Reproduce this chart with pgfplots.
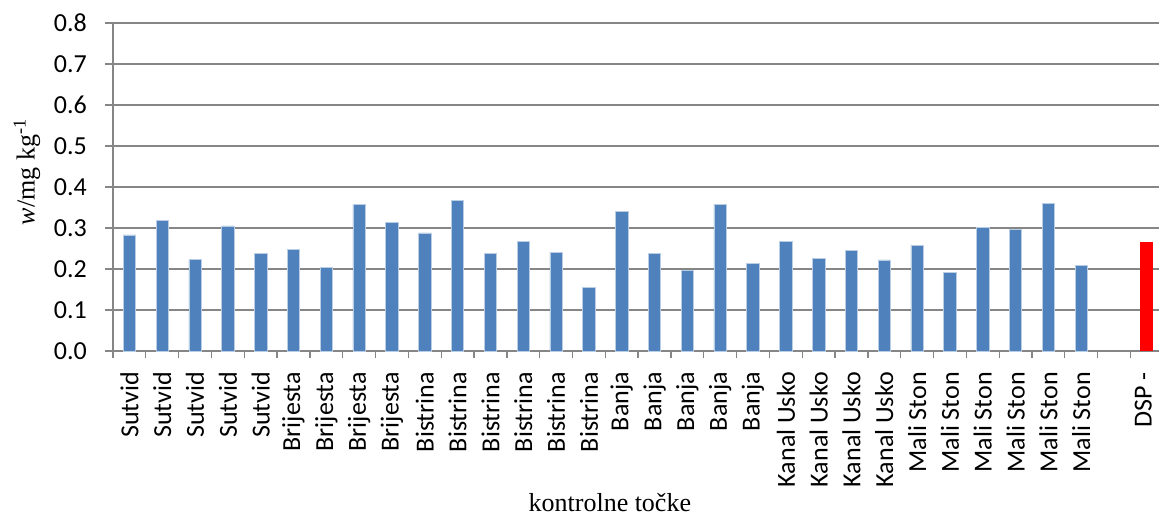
\documentclass[border=0pt]{standalone}
\usepackage{fontspec}
\setmainfont{Carlito}
\newfontfamily\tnr{Liberation Serif}
\usepackage{pgfplots}
\pgfplotsset{compat=1.18}
\definecolor{barblue}{RGB}{79,129,189}
\definecolor{baredge}{RGB}{185,205,229}
\definecolor{axgray}{RGB}{134,134,134}
\begin{document}
\begin{tikzpicture}
\begin{axis}[name=ax, scale only axis, width=1046pt, height=328pt,
  xmin=-0.5, xmax=31.37, ymin=0, ymax=0.8,
  ytick={0,0.1,0.2,0.3,0.4,0.5,0.6,0.7,0.8},
  yticklabel style={/pgf/number format/.cd, fixed, fixed zerofill, precision=1, assume math mode=true},
  axis x line=bottom, axis y line=left,
  axis line style={-, draw=axgray, line width=1.3pt},
  ymajorgrids, grid style={draw=axgray, line width=1.3pt},
  tick align=outside, major tick length=8pt, minor tick length=7pt,
  tick style={draw=axgray, line width=1.3pt},
  xtick={0,...,31}, major x tick style={draw=none},
  minor xtick={-0.5,0.5,...,30.5},
  xticklabels={Sutvid,Sutvid,Sutvid,Sutvid,Sutvid,Brijesta,Brijesta,Brijesta,Brijesta,Bistrina,Bistrina,Bistrina,Bistrina,Bistrina,Bistrina,Banja,Banja,Banja,Banja,Banja,Kanal Usko,Kanal Usko,Kanal Usko,Kanal Usko,Mali Ston,Mali Ston,Mali Ston,Mali Ston,Mali Ston,Mali Ston,{},{\raisebox{-0.18em}[0pt][0pt]{DSP -}}},
  tick label style={font=\fontsize{26}{30}\selectfont, inner sep=0pt},
  xticklabel style={rotate=90, anchor=east},
  xticklabel shift=13pt,
  yticklabel shift=18pt,
  xlabel={\tnr kontrolne točke},
  ylabel={{\tnr\itshape w}{\tnr /mg kg\textsuperscript{-1}}},
  label style={font=\fontsize{26}{30}\selectfont, inner sep=0pt},
  xlabel style={at={(axis description cs:0.475,-0.489)}, anchor=base},
  ylabel style={at={(axis description cs:-0.0822,0.545)}, anchor=center},
]
\addplot[ybar, bar shift=0pt, bar width=12.4pt, fill=barblue, draw=baredge, line width=0.7pt] coordinates {
(0,0.283) (1,0.319) (2,0.223) (3,0.305) (4,0.239) (5,0.247) (6,0.203) (7,0.357) (8,0.313) (9,0.288)
(10,0.368) (11,0.239) (12,0.268) (13,0.241) (14,0.155) (15,0.341) (16,0.239) (17,0.197) (18,0.358) (19,0.214)
(20,0.268) (21,0.226) (22,0.245) (23,0.222) (24,0.258) (25,0.192) (26,0.302) (27,0.296) (28,0.359) (29,0.209)
};
\addplot[ybar, bar shift=0pt, bar width=13pt, fill=red, draw=none] coordinates {(31,0.266)};
\end{axis}
\pgfresetboundingbox
\useasboundingbox ([shift={(-113pt,-167pt)}]ax.south west) rectangle ([shift={(0pt,23pt)}]ax.north east);
\end{tikzpicture}
\end{document}
